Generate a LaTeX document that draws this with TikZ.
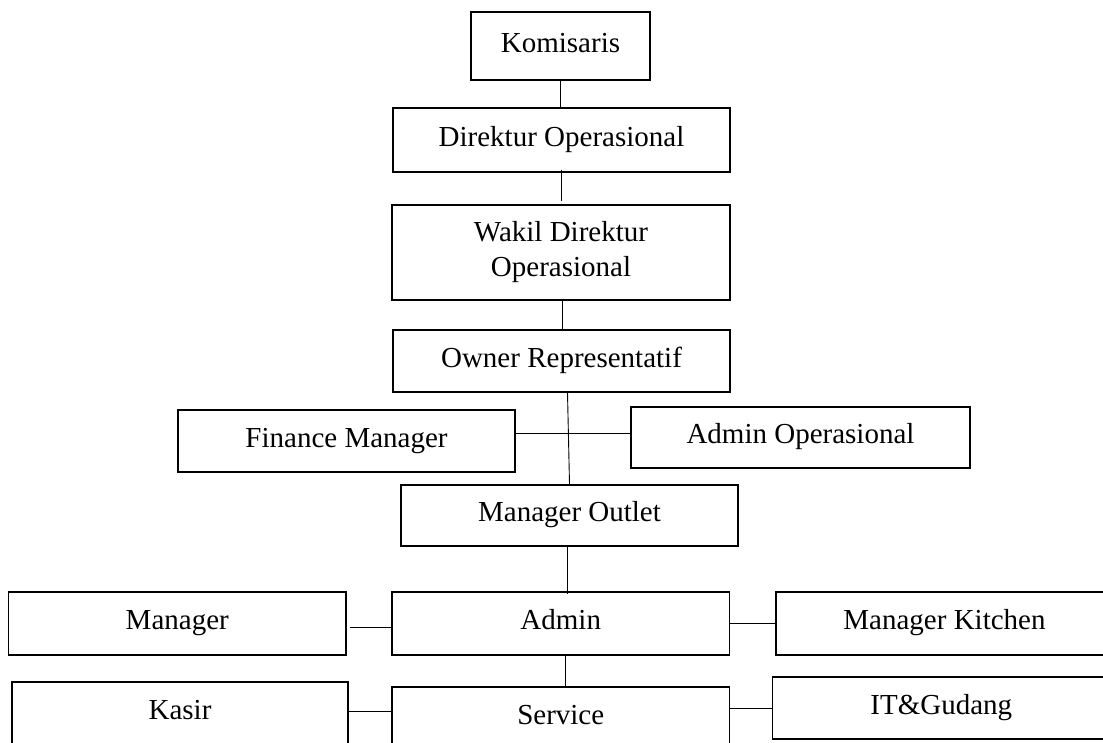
\documentclass[tikz,border=0pt]{standalone}
\usepackage{fontspec}
\setmainfont{Liberation Serif}
\begin{document}
\begin{tikzpicture}[x=1pt,y=-1pt,
  box/.style={draw=black, line width=1.6pt, rectangle, inner sep=0pt,
    font=\fontsize{29}{35}\selectfont},
  onel/.style={text height=20pt, text depth=8pt},
  conn/.style={draw=black, line width=0.9pt}]
\useasboundingbox (0,0) rectangle (1103,742);
\clip (0,0) rectangle (1103,742);
\node[box,onel,minimum width=179pt,minimum height=68pt] (kom) at (560.5,46) {Komisaris};
\node[box,onel,minimum width=337pt,minimum height=64pt] (dir) at (561.5,140) {Direktur Operasional};
\node[box,align=center,minimum width=338pt,minimum height=95pt] (wak) at (561,252.5) {Wakil Direktur\\Operasional};
\node[box,onel,minimum width=337pt,minimum height=62pt] (own) at (561.5,361) {Owner Representatif};
\node[box,onel,minimum width=337pt,minimum height=62pt] (fin) at (346.5,441) {Finance Manager};
\node[box,onel,minimum width=339pt,minimum height=61pt] (aop) at (800.5,437.5) {Admin Operasional};
\node[box,onel,minimum width=337pt,minimum height=61pt] (mo) at (569.5,515.5) {Manager Outlet};
\node[box,onel,minimum width=337.5pt,minimum height=63pt] (mgr) at (177.25,623.5) {Manager};
\node[box,onel,minimum width=337.5pt,minimum height=63pt] (adm) at (560.75,623.5) {Admin};
\node[box,onel,minimum width=337pt,minimum height=63pt] (mk) at (944.5,623.5) {Manager Kitchen};
\node[box,onel,minimum width=336pt,minimum height=63pt] (kas) at (180,713.5) {Kasir};
\node[box,onel,minimum width=337.5pt,minimum height=63pt] (svc) at (560.75,718.5) {Service};
\node[box,onel,minimum width=337.5pt,minimum height=62pt] (itg) at (941.25,708) {IT\&Gudang};
\coordinate (hfa) at (0,433.3);
\coordinate (hma) at (0,627.3);
\coordinate (hks) at (0,711);
\draw[conn] (kom.south) -- (kom.south |- dir.north);
\draw[conn] ([yshift=3pt]dir.south) -- ([yshift=3pt]dir.south |- wak.north);
\draw[conn] ([xshift=1.5pt]wak.south) -- ([xshift=1.5pt]wak.south |- own.north);
\draw[conn] ([xshift=6pt]own.south) -- (mo.north);
\draw[conn] (fin.east |- hfa) -- (aop.west |- hfa);
\draw[conn] ([xshift=-2.5pt]mo.south) -- ([xshift=-2.5pt,yshift=-3pt]mo.south |- adm.north);
\draw[conn] ([xshift=3pt]mgr.east |- hma) -- (adm.west |- hma);
\draw[conn] (adm.east) -- (mk.west);
\draw[conn] ([xshift=5pt]adm.south) -- ([xshift=5pt]adm.south |- svc.north);
\draw[conn] (kas.east |- hks) -- (svc.west |- hks);
\draw[conn] (svc.east |- itg.west) -- (itg.west);
\end{tikzpicture}
\end{document}
